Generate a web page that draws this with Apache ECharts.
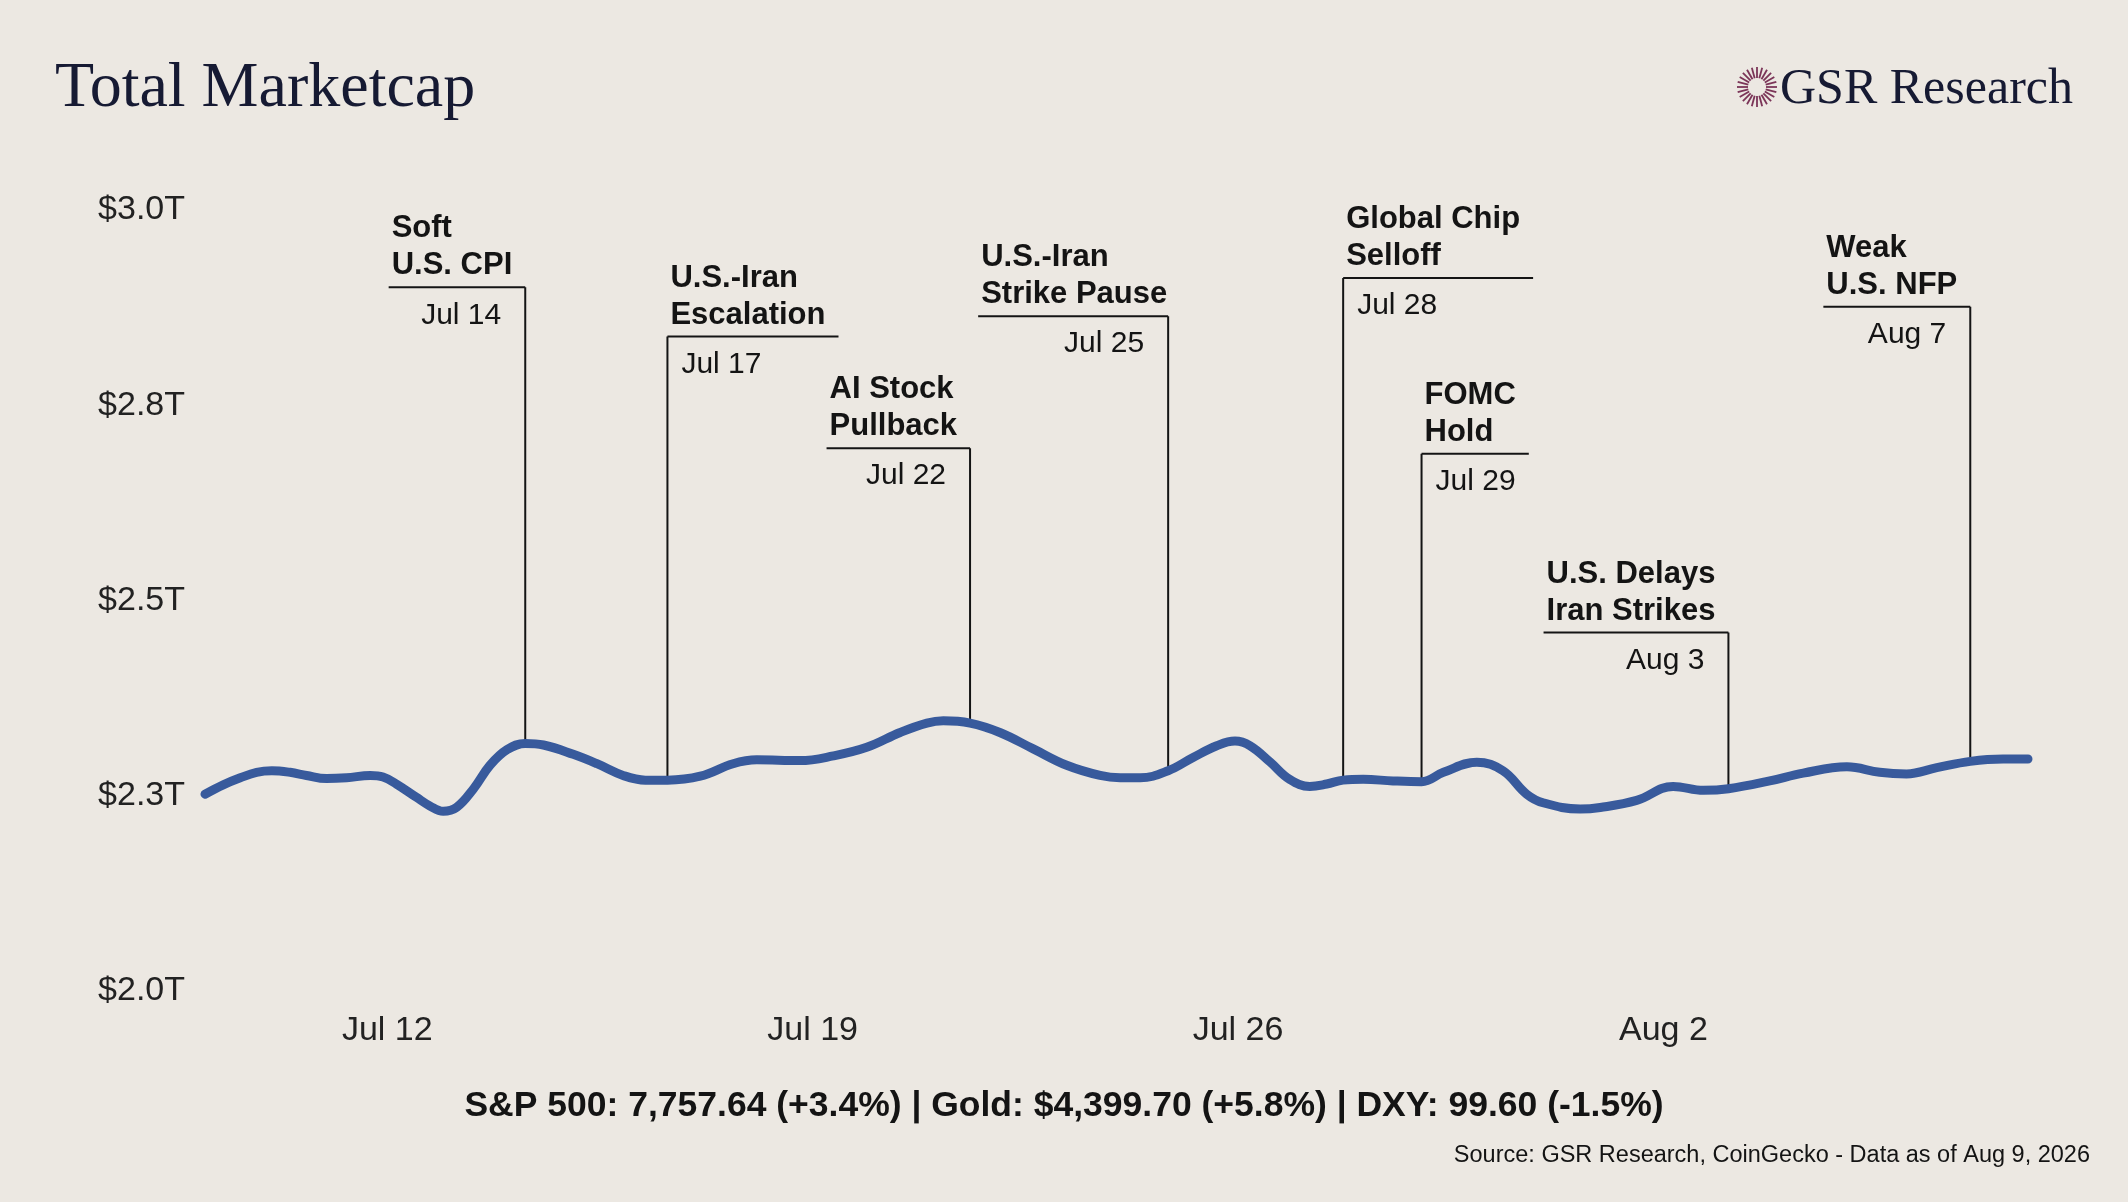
<!DOCTYPE html>
<html>
<head>
    <meta charset="utf-8">
    <title>Total Marketcap</title>
    <script src="https://cdn.jsdelivr.net/npm/echarts@6/dist/echarts.min.js"></script>
    <style>
        html, body { margin: 0; padding: 0; background: #ece8e2; }
    </style>
</head>
<body>
    <div id="main" style="width:2128px;height:1202px;"></div>
    <script type="text/javascript">
        // x = days since Jul 9, y = total market cap in $T
        var days = [0, 0.30, 0.58, 0.85, 1.10, 1.40, 1.67, 2.00, 2.33, 2.72, 2.93, 3.15, 3.48, 3.70,
                    3.92, 4.14, 4.42, 4.69, 4.97, 5.27, 5.57, 6.06, 6.45, 6.88, 7.25, 7.61, 8.15, 8.69,
                    9.08, 9.79, 10.34, 10.89, 11.44, 11.88, 12.15, 12.59, 13.08, 13.63, 14.18, 14.73,
                    15.06, 15.39, 15.85, 16.26, 16.65, 16.95, 17.20, 17.53, 17.85, 18.18, 18.46, 18.73,
                    19.06, 19.55, 20.02, 20.38, 20.93, 21.36, 21.75, 22.02, 22.63, 22.96, 23.56, 24.16,
                    24.66, 25.07, 25.75, 26.30, 27.02, 27.56, 28.00, 28.50, 29.05, 29.59, 30];
        var caps = [2.252, 2.264, 2.273, 2.280, 2.282, 2.280, 2.276, 2.272, 2.273, 2.276, 2.274, 2.265, 2.248, 2.237,
                    2.230, 2.235, 2.259, 2.289, 2.309, 2.317, 2.315, 2.303, 2.291, 2.276, 2.270, 2.270, 2.275, 2.291,
                    2.296, 2.295, 2.301, 2.312, 2.331, 2.343, 2.346, 2.343, 2.331, 2.310, 2.289, 2.276,
                    2.273, 2.273, 2.282, 2.299, 2.314, 2.320, 2.314, 2.293, 2.271, 2.262, 2.265, 2.270,
                    2.271, 2.269, 2.268, 2.280, 2.293, 2.282, 2.252, 2.241, 2.233, 2.235, 2.244, 2.262,
                    2.257, 2.259, 2.269, 2.279, 2.287, 2.280, 2.278, 2.286, 2.294, 2.297, 2.297];

        var tickDays = [3, 10, 17, 24];
        var tickLabels = ['Jul 12', 'Jul 19', 'Jul 26', 'Aug 2'];

        // events
        var eventNames = [['Soft', 'U.S. CPI'], ['U.S.-Iran', 'Escalation'], ['AI Stock', 'Pullback'],
                          ['U.S.-Iran', 'Strike Pause'], ['Global Chip', 'Selloff'], ['FOMC', 'Hold'],
                          ['U.S. Delays', 'Iran Strikes'], ['Weak', 'U.S. NFP']];
        var eventDates = ['Jul 14', 'Jul 17', 'Jul 22', 'Jul 25', 'Jul 28', 'Jul 29', 'Aug 3', 'Aug 7'];
        var eventDays = [5.27, 7.61, 12.59, 15.85, 18.73, 20.02, 25.07, 29.05];
        // height of the label shelf, in $T
        var eventLevels = [2.901, 2.838, 2.695, 2.864, 2.913, 2.688, 2.459, 2.876];
        var eventSides = ['right', 'left', 'right', 'right', 'left', 'left', 'right', 'right'];

        var footer = 'S&P 500: 7,757.64 (+3.4%) | Gold: $4,399.70 (+5.8%) | DXY: 99.60 (-1.5%)';
        var source = 'Source: GSR Research, CoinGecko - Data as of Aug 9, 2026';

        var sansFont = 'Liberation Sans, Arial, sans-serif';
        var serifFont = 'Liberation Serif, Times New Roman, serif';
        var ink = '#141414';

        var measureCtx = document.createElement('canvas').getContext('2d');
        function textWidth(txt, font) {
            measureCtx.font = font;
            return measureCtx.measureText(txt).width;
        }

        var lineData = days.map(function (d, i) { return [d, caps[i]]; });
        var eventData = eventDays.map(function (d, i) {
            return [d, caps[days.indexOf(d)], eventLevels[i], i];
        });

        var labelFont = 'bold 31px ' + sansFont;
        var dateFont = '30px ' + sansFont;

        function renderEvent(params, api) {
            var i = api.value(3);
            var base = api.coord([api.value(0), api.value(1)]);
            var top = api.coord([api.value(0), api.value(2)]);
            var lines = eventNames[i];
            var tw = Math.max(textWidth(lines[0], labelFont), textWidth(lines[1], labelFont));
            var w = Math.min(tw + 16, 190);
            var right = eventSides[i] === 'right';
            var x0 = right ? base[0] - w : base[0];
            var x1 = right ? base[0] : base[0] + w;
            return {
                type: 'group',
                children: [
                    { type: 'line', shape: { x1: base[0], y1: top[1], x2: base[0], y2: base[1] },
                      style: { stroke: ink, lineWidth: 2 } },
                    { type: 'line', shape: { x1: x0, y1: top[1], x2: x1, y2: top[1] },
                      style: { stroke: ink, lineWidth: 2 } },
                    { type: 'text', style: { text: lines.join('\n'), x: x0 + 3, y: top[1] - 3,
                      align: 'left', verticalAlign: 'bottom', font: labelFont, lineHeight: 37, fill: ink } },
                    { type: 'text', style: { text: eventDates[i], x: right ? x1 - 24 : x0 + 14, y: top[1] + 28,
                      align: right ? 'right' : 'left', verticalAlign: 'middle', font: dateFont, fill: ink } }
                ]
            };
        }

        // sunburst logo rays
        var rays = [];
        for (var k = 0; k < 24; k++) {
            var a = k * Math.PI * 2 / 24;
            rays.push({ type: 'line',
                shape: { x1: Math.cos(a) * 9, y1: Math.sin(a) * 9, x2: Math.cos(a) * 20, y2: Math.sin(a) * 20 },
                style: { stroke: '#7b3558', lineWidth: 1.8 } });
        }

        var myChart = echarts.init(document.getElementById('main'));
        var option = {
            backgroundColor: '#ece8e2',
            animation: false,
            title: [
                { text: 'Total Marketcap', left: 50, top: 52,
                  textStyle: { fontFamily: serifFont, fontSize: 64, fontWeight: 'normal', color: '#161a33' } },
                { text: footer, left: 'center', top: 1083,
                  textStyle: { fontFamily: sansFont, fontSize: 35.5, fontWeight: 'bold', color: ink } },
                { text: source, right: 33, top: 1139,
                  textStyle: { fontFamily: sansFont, fontSize: 23.5, fontWeight: 'normal', color: ink } }
            ],
            graphic: [
                { type: 'group', x: 1757, y: 87, children: rays },
                { type: 'text', right: 55, top: 65,
                  style: { text: 'GSR Research', font: '50px ' + serifFont, fill: '#161a33' } }
            ],
            grid: { left: 205, right: 100, top: 210, bottom: 211 },
            xAxis: {
                type: 'value', min: 0, max: 30,
                axisLine: { show: false }, axisTick: { show: false }, splitLine: { show: false },
                axisLabel: {
                    customValues: tickDays,
                    formatter: function (v) { return tickLabels[tickDays.indexOf(Math.round(v))]; },
                    fontFamily: sansFont, fontSize: 34, color: '#222', margin: 23
                }
            },
            yAxis: {
                type: 'value', min: 2, max: 3, interval: 0.25,
                axisLine: { show: false }, axisTick: { show: false }, splitLine: { show: false },
                axisLabel: {
                    formatter: function (v) { return '$' + v.toFixed(1) + 'T'; },
                    fontFamily: sansFont, fontSize: 34, color: '#222', margin: 20
                }
            },
            series: [
                { type: 'custom', renderItem: renderEvent, data: eventData, z: 2, silent: true },
                { type: 'line', data: lineData, smooth: 0.4, showSymbol: false, z: 3,
                  lineStyle: { color: '#385a9c', width: 9, cap: 'round' } }
            ]
        };
        myChart.setOption(option);
    </script>
</body>
</html>
